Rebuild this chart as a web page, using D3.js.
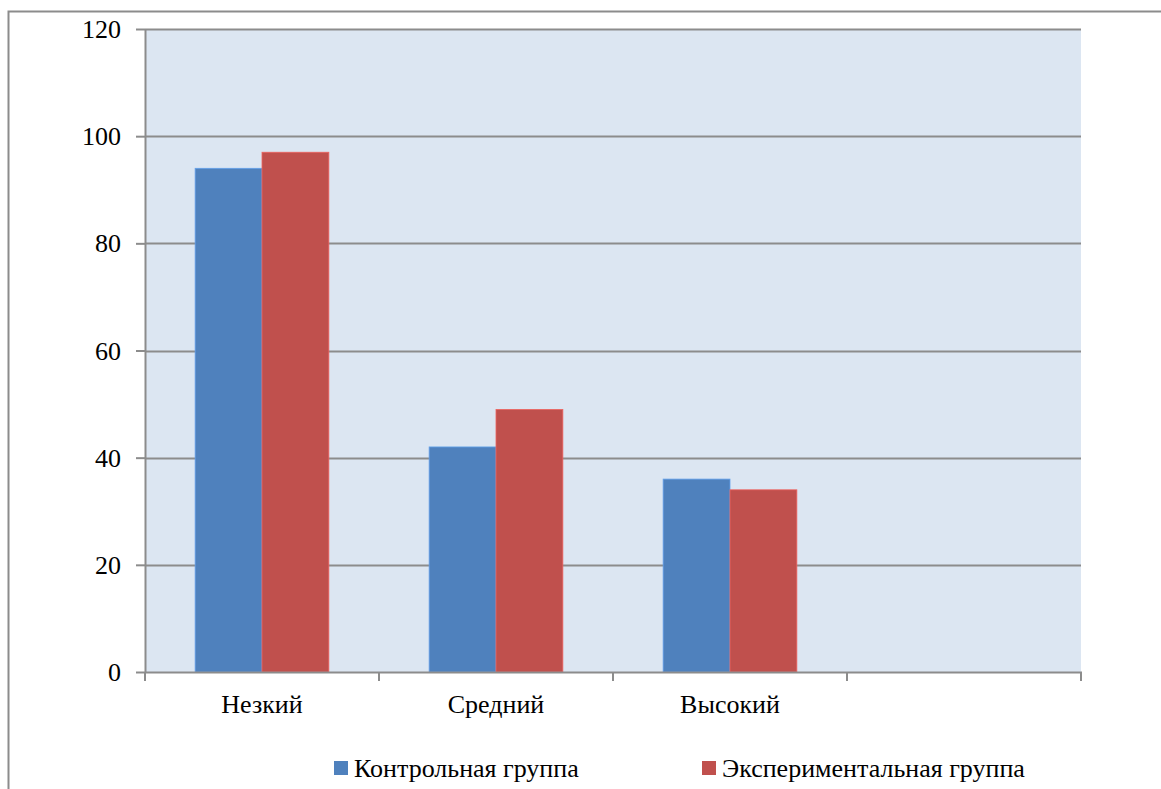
<!DOCTYPE html>
<html>
<head>
<meta charset="utf-8">
<script src="https://cdn.jsdelivr.net/npm/d3@7"></script>
<style>
  html, body { margin: 0; padding: 0; background: #fff; }
  svg { display: block; }
  svg text { font-family: "Times New Roman", "Liberation Serif", Tinos, "DejaVu Serif", "Noto Serif", serif; }
</style>
</head>
<body>
<svg id="chart" width="1161" height="789"></svg>
<script>
// Chart data
const categories = ["Незкий", "Средний", "Высокий", ""];
const seriesNames = ["Контрольная группа", "Экспериментальная группа"];
const controlValues = [94, 42, 36, null];
const experimentalValues = [97, 49, 34, null];
const yTicks = [0, 20, 40, 60, 80, 100, 120];
const colors = ["#4F81BD", "#C0504D"];

const FS = "26px";

const svg = d3.select("#chart");
const W = 1161, H = 789;
const plot = { left: 145, right: 1081, top: 29, bottom: 672 };

// Outer chart frame (bottom edge falls outside the view)
svg.append("rect")
  .attr("x", 8.5).attr("y", 11.5)
  .attr("width", W + 20).attr("height", H + 20)
  .attr("fill", "#fff").attr("stroke", "#8c8c8c").attr("stroke-width", 2);

const x = d3.scaleBand().domain(d3.range(categories.length))
  .range([plot.left, plot.right]).paddingInner(0).paddingOuter(0);
const y = d3.scaleLinear().domain([0, 120]).range([plot.bottom, plot.top]);

// Plot area background
svg.append("rect")
  .attr("x", plot.left).attr("y", plot.top)
  .attr("width", plot.right - plot.left).attr("height", plot.bottom - plot.top)
  .attr("fill", "#DCE6F2");

// Horizontal gridlines
svg.append("g").selectAll("line").data(yTicks.filter(d => d > 0)).join("line")
  .attr("x1", plot.left).attr("x2", plot.right)
  .attr("y1", d => Math.round(y(d)) + 0.5).attr("y2", d => Math.round(y(d)) + 0.5)
  .attr("stroke", "#8c8c8c").attr("stroke-width", 2);

// Bars
const sub = d3.scaleBand().domain([0, 1]).range([0, x.bandwidth()]).paddingOuter(0.75).paddingInner(0);
const series = [controlValues, experimentalValues];
series.forEach((vals, si) => {
  svg.append("g").selectAll("rect")
    .data(vals.map((v, i) => ({ v, i })).filter(d => d.v != null))
    .join("rect")
    .attr("x", d => x(d.i) + sub(si))
    .attr("y", d => y(d.v))
    .attr("width", sub.bandwidth())
    .attr("height", d => y(0) - y(d.v))
    .attr("fill", colors[si])
    .attr("stroke", d3.color(colors[si]).brighter(0.6))
    .attr("stroke-width", 0.8);
});

// Y axis
const yAxis = d3.axisLeft(y).tickValues(yTicks).tickSize(9).tickPadding(15).tickFormat(d3.format("d"));
const gy = svg.append("g").attr("transform", `translate(${plot.left},0)`).call(yAxis);
gy.attr("font-family", null).attr("font-size", null);
gy.select(".domain").attr("stroke", "#8c8c8c").attr("stroke-width", 2).attr("d", `M0.5,${plot.top}V${plot.bottom}`);
gy.selectAll(".tick line").attr("stroke", "#8c8c8c").attr("stroke-width", 2);
gy.selectAll(".tick text")
  .style("font-size", FS).style("fill", "#000")
  .attr("dy", "0.33em");

// X axis
const xPos = d3.scaleLinear().domain([0, categories.length]).range([plot.left, plot.right]);
const gx = svg.append("g").attr("transform", `translate(0,${plot.bottom})`);
gx.append("line").attr("x1", plot.left).attr("x2", plot.right + 1)
  .attr("y1", 0.5).attr("y2", 0.5).attr("stroke", "#8c8c8c").attr("stroke-width", 2);
gx.selectAll("line.tick").data(d3.range(categories.length + 1)).join("line")
  .attr("class", "tick")
  .attr("x1", d => xPos(d)).attr("x2", d => xPos(d))
  .attr("y1", 0).attr("y2", 9)
  .attr("stroke", "#8c8c8c").attr("stroke-width", 2);
gx.selectAll("text").data(categories).join("text")
  .attr("x", (d, i) => x(i) + x.bandwidth() / 2)
  .attr("y", 41)
  .attr("text-anchor", "middle")
  .style("font-size", FS).style("fill", "#000")
  .text(d => d);

// Legend
const legendX = [334, 702];
const legend = svg.append("g");
seriesNames.forEach((name, i) => {
  legend.append("rect").attr("x", legendX[i]).attr("y", 761).attr("width", 14).attr("height", 14).attr("fill", colors[i]);
  legend.append("text").attr("x", legendX[i] + 20).attr("y", 777)
    .style("font-size", FS).style("fill", "#000")
    .text(name);
});
</script>
</body>
</html>
